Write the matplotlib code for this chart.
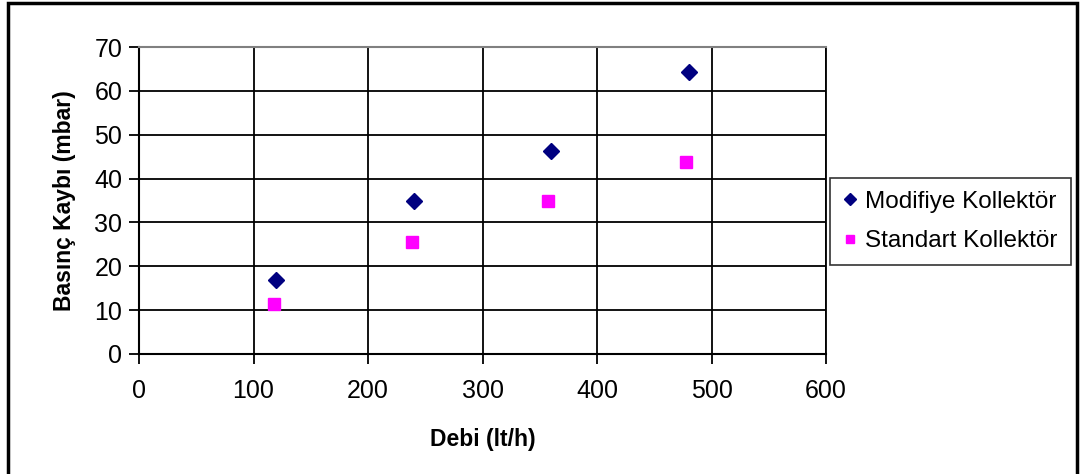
import matplotlib.pyplot as plt
from matplotlib.patches import Rectangle

plt.rcParams['font.family'] = ['Liberation Sans', 'DejaVu Sans']

debi_mod = [120, 240, 360, 480]
kayip_mod = [16.8, 34.9, 46.4, 64.2]
debi_std = [118, 238, 357, 478]
kayip_std = [11.5, 25.6, 35.0, 43.7]
xticks = [0, 100, 200, 300, 400, 500, 600]
yticks = [0, 10, 20, 30, 40, 50, 60, 70]

fig = plt.figure(figsize=(10.86, 4.74), dpi=100)
ax = fig.add_axes([0.128, 0.2532, 0.6326, 0.6476])

ax.plot(debi_mod, kayip_mod, linestyle='none', marker='D', ms=8.5,
        color='#000080', label='Modifiye Kollektör', zorder=3)
ax.plot(debi_std, kayip_std, linestyle='none', marker='s', ms=8.5,
        color='#ff00ff', label='Standart Kollektör', zorder=3)

ax.set_xlim(0, 600)
ax.set_ylim(0, 70)
ax.set_xticks(xticks)
ax.set_yticks(yticks)
ax.grid(True, color='black', linewidth=1.3)
ax.tick_params(labelsize=18, length=7, width=1.3, direction='out')
ax.tick_params(axis='x', pad=11)
ax.tick_params(axis='y', pad=5)
for s in ['left', 'bottom']:
    ax.spines[s].set_linewidth(1.5)
ax.spines['top'].set_color('#808080')
ax.spines['top'].set_linewidth(1.5)
ax.spines['right'].set_linewidth(1.3)

ax.set_xlabel('Debi (lt/h)', fontsize=16.5, fontweight='bold', labelpad=18)
ax.set_ylabel('Basınç Kaybı (mbar)', fontsize=16.5, fontweight='bold', labelpad=13)

leg = ax.legend(loc='center left', bbox_to_anchor=(1.006, 0.4316), fontsize=17.5,
                frameon=True, fancybox=False, edgecolor='black', borderaxespad=0,
                handlelength=0.5, handletextpad=0.4, borderpad=0.55,
                labelspacing=0.7, markerscale=0.72)
leg.get_frame().set_linewidth(1.2)

fig.patches.append(Rectangle((0.0075, -0.02), 0.984, 1.0137, transform=fig.transFigure,
                             fill=False, edgecolor='black', linewidth=2.5))

fig.savefig('out.png', dpi=100)
